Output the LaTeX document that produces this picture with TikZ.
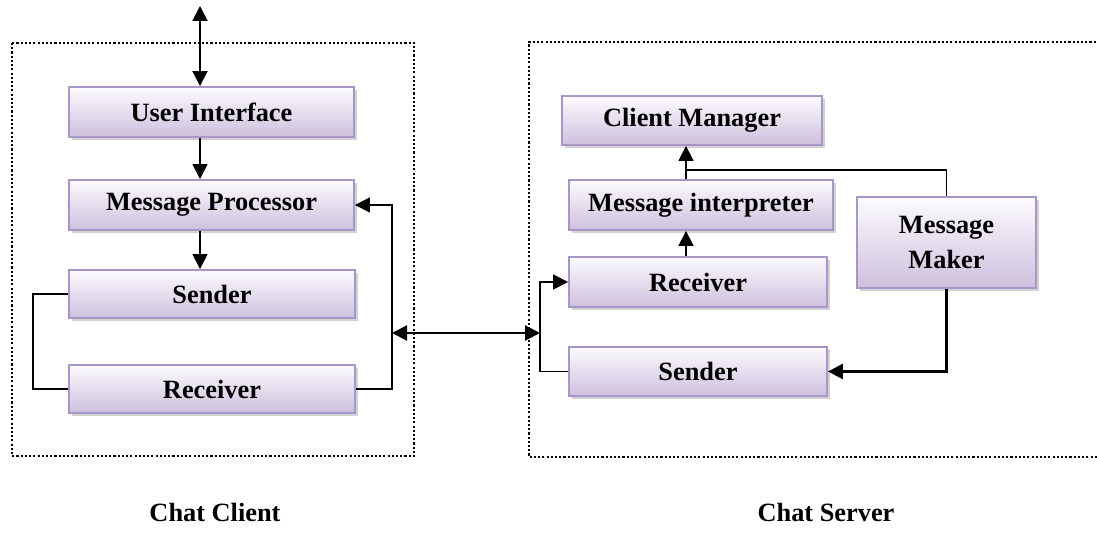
\documentclass[tikz,border=0pt]{standalone}
\usepackage{fontspec}
\setmainfont{Liberation Serif}
\usetikzlibrary{arrows.meta, positioning, shadows}

\definecolor{boxtop}{RGB}{252,251,254}
\definecolor{boxbot}{RGB}{205,192,222}
\definecolor{boxline}{RGB}{168,150,200}

\tikzset{
    block/.style={draw=boxline, line width=1.1pt, top color=boxtop, bottom color=boxbot,
        font=\fontsize{15}{18}\selectfont\bfseries, align=center, inner sep=0pt,
        drop shadow={shadow xshift=0.06cm, shadow yshift=-0.06cm, fill=black!25, opacity=0.7}},
    arr/.style={-{Triangle[length=0.3cm, width=0.3cm]}, line width=1pt},
    dbl/.style={{Triangle[length=0.3cm, width=0.3cm]}-{Triangle[length=0.3cm, width=0.3cm]}, line width=1.2pt},
    frame/.style={dash pattern=on 1.2pt off 1.2pt, line width=1.4pt},
    title/.style={font=\fontsize{15}{18}\selectfont\bfseries}
}

\begin{document}
\begin{tikzpicture}[x=0.02cm, y=-0.02cm]
    \useasboundingbox (0,0) rectangle (1097,546);

    % the two machines
    \draw[frame] (12,43) rectangle (414,456);
    \draw[frame] (1100,42) -- (529,42) -- (529,457) -- (1100,457);

    % client side
    \node[block, minimum width=5.7cm, minimum height=1cm] (ui) at (211.5,112) {User Interface};
    \node[block, minimum width=5.7cm, minimum height=1cm] (mp) at (211.5,205) {Message Processor};
    \node[block, minimum width=5.72cm, minimum height=0.96cm] (csend) at (212,294) {Sender};
    \node[block, minimum width=5.72cm, minimum height=0.96cm] (crecv) at (212,389) {Receiver};

    % server side
    \node[block, minimum width=5.2cm, minimum height=0.98cm] (cm) at (692,120.5) {Client Manager};
    \node[block, minimum width=5.28cm, minimum height=1cm] (mi) at (701,205) {Message interpreter};
    \node[block, minimum width=5.16cm, minimum height=1cm] (srecv) at (698,282) {Receiver};
    \node[block, minimum width=5.16cm, minimum height=0.98cm] (ssend) at (698,371.5) {Sender};
    \node[block, minimum width=3.58cm, minimum height=1.82cm] (mm) at (946.5,242.5) {Message\\[2pt] Maker};

    % titles
    \node[title] (clabel) at (215,512) {Chat Client};
    \node[title] (slabel) at (826,512) {Chat Server};

    \coordinate (top) at (200,6);
    \coordinate (cbus) at (392,333);
    \coordinate (sbus) at (540,333);
    \coordinate (up) at (686,170);

    % client connectors
    \draw[dbl] (top) -- (top |- ui.north);
    \draw[arr] (top |- ui.south) -- (top |- mp.north);
    \draw[arr] (top |- mp.south) -- (top |- csend.north);
    \draw[line width=1pt] (csend.west) -- ++(-35,0) |- (crecv.west);
    \draw[arr] (crecv.east) -| (cbus) |- (mp.east);

    % link between client and server
    \draw[dbl] (cbus) -- (sbus);

    % server connectors
    \draw[arr] (ssend.west) -| (sbus) |- (srecv.west);
    \draw[arr] (up |- srecv.north) -- (up |- mi.south);
    \draw[arr] (up |- mi.north) -- (up |- cm.south);
    \draw[line width=1pt] (mm.north) |- (up);
    \draw[arr, line width=1.6pt] (mm.south) |- (ssend.east);
\end{tikzpicture}
\end{document}
